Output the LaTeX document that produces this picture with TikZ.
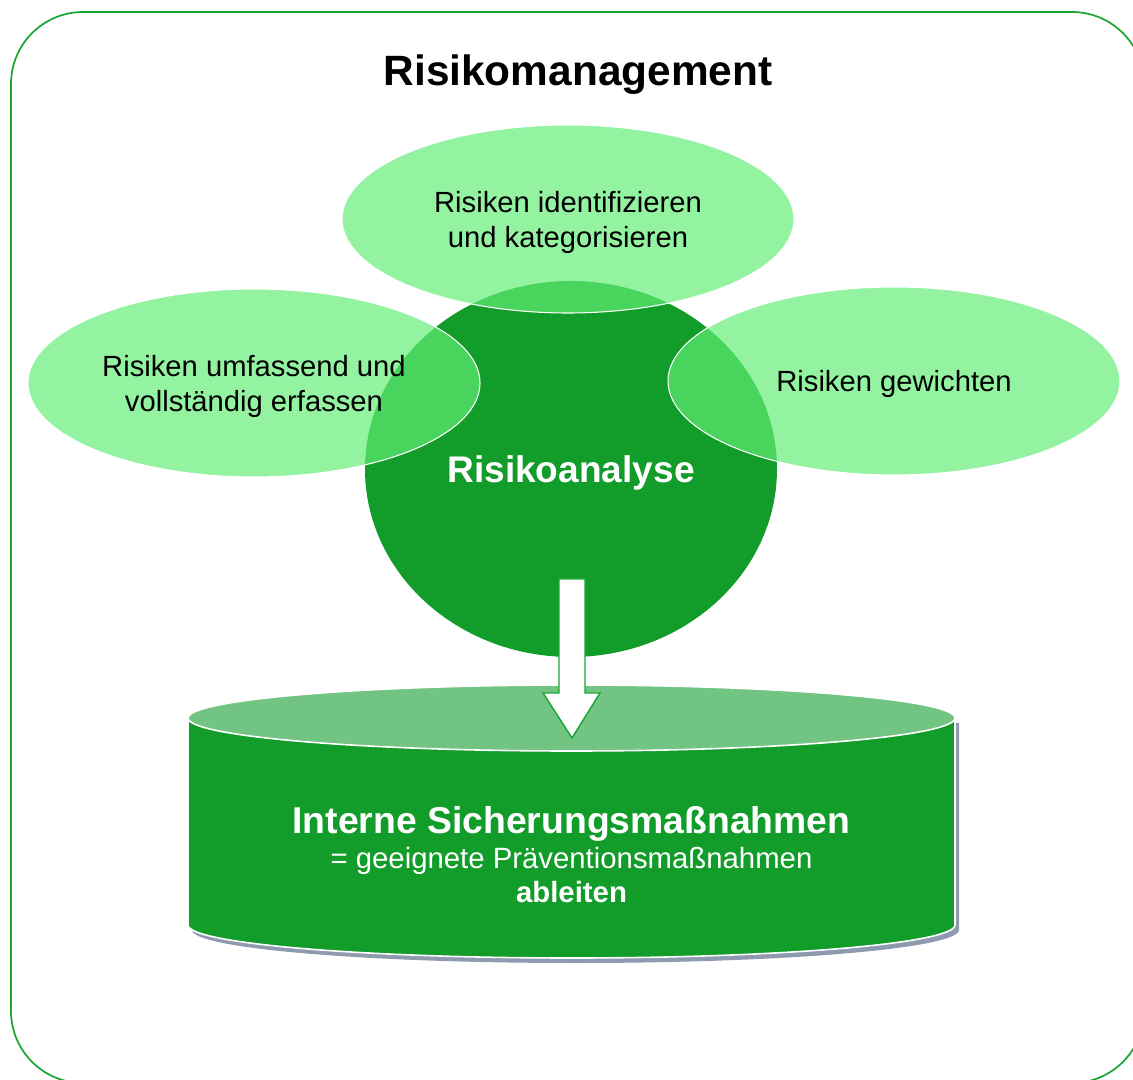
\documentclass[tikz,border=0pt]{standalone}
\usepackage{fontspec}
\setmainfont{Liberation Sans}
\usetikzlibrary{shapes.geometric, positioning}
\definecolor{darkgreen}{RGB}{18,156,41}
\definecolor{petalfill}{RGB}{99,238,119}
\definecolor{lidgreen}{RGB}{114,196,131}
\definecolor{framegreen}{RGB}{26,166,50}
\definecolor{shadowgrey}{RGB}{142,154,174}
\tikzset{
  petal/.style={
    ellipse,
    fill=petalfill,
    fill opacity=0.69,
    text opacity=1,
    draw=white,
    line width=0.8pt,
    minimum width=339pt,
    minimum height=141pt,
    text depth=0pt,
    font=\fontsize{21.9}{26.3}\selectfont,
    align=center
  },
  core/.style={
    ellipse,
    fill=darkgreen,
    minimum width=309pt,
    minimum height=282pt,
    text=white,
    text depth=0pt,
    font=\fontsize{27.8}{33}\selectfont\bfseries
  },
  drumtext/.style={
    anchor=base,
    text=white
  }
}

\begin{document}
\begin{tikzpicture}[x=0.75pt, y=-0.75pt]
        \useasboundingbox (0,0) rectangle (1133,1080);
        \clip (0,0) rectangle (1133,1080);

        % outer frame and title
        \draw[framegreen, line width=1.3pt, rounded corners=54pt] (11,12) rectangle (1144,1083);
        \node[anchor=base, font=\fontsize{31.8}{38}\selectfont\bfseries] (title) at (578,86) {Risikomanagement};

        % Define the nodes
        \node[core]  (analysis) at (571,469) {Risikoanalyse};
        \node[petal] (identify) at (568,219) {Risiken identifizieren\\und kategorisieren};
        \node[petal] (capture)  at (254,383) {Risiken umfassend und\\vollständig erfassen};
        \node[petal] (weigh)    at (894,381) {Risiken gewichten};

        % drum with shadow
        \fill[shadowgrey] (192,723) -- (192,930) arc[start angle=180, end angle=0, x radius=383.5, y radius=33] -- (959,723) -- cycle;
        \draw[white, line width=1.2pt, fill=darkgreen] (188,718) -- (188,925) arc[start angle=180, end angle=0, x radius=383.5, y radius=33] -- (955,718) -- cycle;
        \draw[white, line width=1.2pt, fill=lidgreen] (571.5,718) ellipse [x radius=383.5, y radius=33];

        % block arrow
        \draw[framegreen, line width=1.1pt, fill=white, line join=miter]
          (559,579) -- (559,693) -- (543,693) -- (572,738) -- (600,693) -- (585,693) -- (585,579) -- cycle;

        % text on the drum
        \node[drumtext, font=\fontsize{28}{33}\selectfont\bfseries] (measures)   at (571.5,833) {Interne Sicherungsmaßnahmen};
        \node[drumtext, font=\fontsize{22}{26}\selectfont]         (prevention) at (571.5,868) {= geeignete Präventionsmaßnahmen};
        \node[drumtext, font=\fontsize{22}{26}\selectfont\bfseries] (derive)    at (571.5,902) {ableiten};
\end{tikzpicture}
\end{document}
